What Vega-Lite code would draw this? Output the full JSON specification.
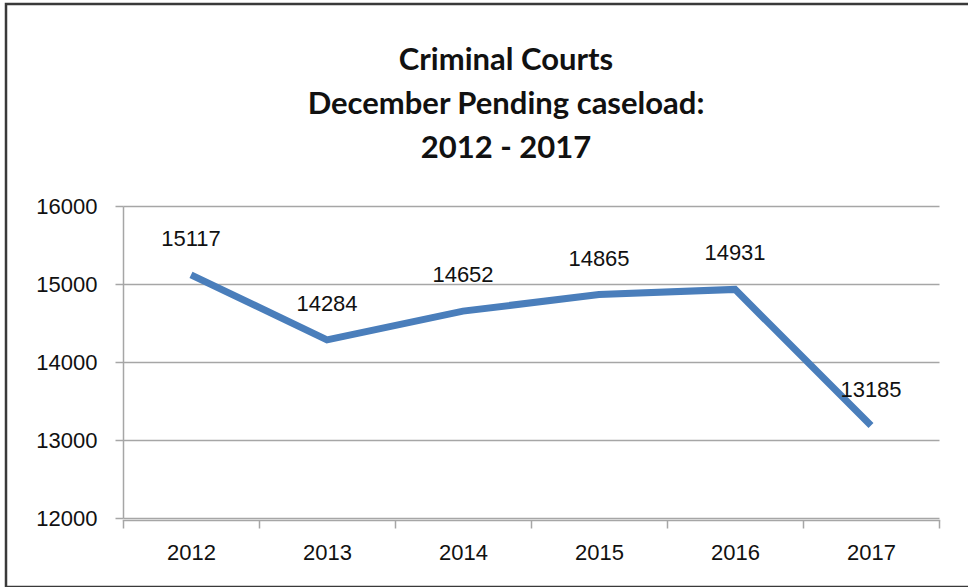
{
  "$schema": "https://vega.github.io/schema/vega-lite/v6.json",
  "width": 1000,
  "height": 583,
  "autosize": {"type": "none"},
  "padding": {"left": 6, "top": 4, "right": 0, "bottom": 0},
  "background": "white",
  "config": {
    "view": {"stroke": "#3a3a3a", "strokeWidth": 2.5},
    "axis": {
      "labelFont": "Liberation Sans",
      "labelFontSize": 22,
      "labelColor": "#111111",
      "domainColor": "#a6a6a6",
      "tickColor": "#a6a6a6",
      "gridColor": "#a6a6a6",
      "domainWidth": 1.5,
      "tickWidth": 1.5,
      "gridWidth": 1.5,
      "title": null
    }
  },
  "title": {
    "text": ["Criminal Courts", "December Pending caseload:", "2012 - 2017"],
    "font": "Lato",
    "fontSize": 31,
    "fontWeight": "bold",
    "color": "#111111",
    "lineHeight": 44,
    "anchor": "middle",
    "frame": "group",
    "offset": -161
  },
  "data": {
    "values": [
      {"year": "2012", "value": 15117},
      {"year": "2013", "value": 14284},
      {"year": "2014", "value": 14652},
      {"year": "2015", "value": 14865},
      {"year": "2016", "value": 14931},
      {"year": "2017", "value": 13185}
    ]
  },
  "encoding": {
    "x": {
      "field": "year",
      "type": "ordinal",
      "scale": {"range": [117, 933], "paddingInner": 0, "paddingOuter": 0},
      "axis": {"labelAngle": 0, "offset": -67, "tickSize": 8, "labelPadding": 14, "tickBand": "extent", "grid": false, "domainCap": "square"}
    },
    "y": {
      "field": "value",
      "type": "quantitative",
      "scale": {"domain": [12000, 16000], "range": [514, 202], "nice": false, "zero": false},
      "axis": {"values": [12000, 13000, 14000, 15000, 16000], "offset": -117, "tickSize": 8, "labelPadding": 18, "grid": true, "format": "d"}
    }
  },
  "layer": [
    {
      "mark": {"type": "line", "color": "#4a7ebb", "strokeWidth": 7, "strokeCap": "butt", "strokeJoin": "miter"}
    },
    {
      "mark": {"type": "text", "font": "Liberation Sans", "fontSize": 22, "color": "#111111", "dy": -36, "baseline": "middle"},
      "encoding": {"text": {"field": "value", "type": "quantitative", "format": "d"}}
    }
  ]
}
